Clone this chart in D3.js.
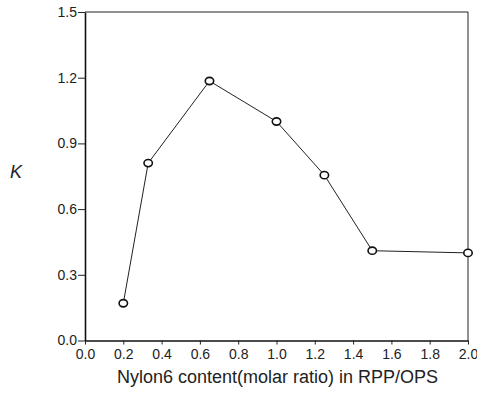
<!DOCTYPE html>
<html>
<head>
<meta charset="utf-8">
<script src="https://cdn.jsdelivr.net/npm/d3@7"></script>
<style>
  html, body { margin: 0; padding: 0; background: #fff; }
  svg { display: block; }
  text { font-family: "Liberation Sans", Arial, sans-serif; fill: #222; }
</style>
</head>
<body>
<svg id="chart" width="477" height="400"></svg>
<script>
// Nylon6 content (molar ratio) vs. K
const nylonContent = [0.2, 0.33, 0.65, 1.0, 1.25, 1.5, 2.0];
const kValues      = [0.17, 0.81, 1.185, 1.0, 0.755, 0.41, 0.40];

const xTicks = [0.0, 0.2, 0.4, 0.6, 0.8, 1.0, 1.2, 1.4, 1.6, 1.8, 2.0];
const yTicks = [0.0, 0.3, 0.6, 0.9, 1.2, 1.5];

const xTitle = "Nylon6 content(molar ratio) in RPP/OPS";
const yTitle = "K";

const svg = d3.select("#chart");
const plotL = 85, plotR = 468, plotT = 12, plotB = 340.5;

const x = d3.scaleLinear().domain([0, 2]).range([plotL, plotR]);
const y = d3.scaleLinear().domain([0, 1.5]).range([plotB, plotT]);

// frame: top and right edges
svg.append("path")
  .attr("d", `M${plotL},${plotT}H${plotR}V${plotB}`)
  .attr("fill", "none").attr("stroke", "#222").attr("stroke-width", 1);

// bottom axis
const gx = svg.append("g").attr("transform", `translate(0,${plotB})`)
  .call(d3.axisBottom(x).tickValues(xTicks).tickFormat(d3.format(".1f"))
    .tickSize(4).tickSizeOuter(0).tickPadding(5));
// left axis
const gy = svg.append("g").attr("transform", `translate(${plotL},0)`)
  .call(d3.axisLeft(y).tickValues(yTicks).tickFormat(d3.format(".1f"))
    .tickSize(7).tickSizeOuter(0).tickPadding(1));

[gx, gy].forEach(g => {
  g.select(".domain").attr("stroke", "#111").attr("stroke-width", 1.6);
  g.selectAll(".tick line").attr("stroke", "#222").attr("stroke-width", 1);
  g.selectAll(".tick text")
    .style("font-family", "'Liberation Sans', Arial, sans-serif")
    .style("font-size", "14px").attr("fill", "#444");
});

// axis titles
svg.append("text")
  .attr("x", (plotL + plotR) / 2 + 1).attr("y", 383)
  .attr("text-anchor", "middle")
  .style("font-size", "18px").attr("fill", "#333")
  .text(xTitle);

svg.append("text")
  .attr("x", 16).attr("y", 178)
  .attr("text-anchor", "middle")
  .style("font-size", "18px").style("font-style", "italic").attr("fill", "#333")
  .text(yTitle);

// data line and markers
const pts = nylonContent.map((v, i) => [v, kValues[i]]);

svg.append("path")
  .datum(pts)
  .attr("fill", "none").attr("stroke", "#222").attr("stroke-width", 1)
  .attr("d", d3.line().x(d => x(d[0])).y(d => y(d[1])));

svg.append("g").selectAll("ellipse")
  .data(pts).join("ellipse")
  .attr("cx", d => x(d[0])).attr("cy", d => y(d[1]))
  .attr("rx", 4.2).attr("ry", 3.6)
  .attr("fill", "#fff").attr("stroke", "#111").attr("stroke-width", 1.6);
</script>
</body>
</html>
